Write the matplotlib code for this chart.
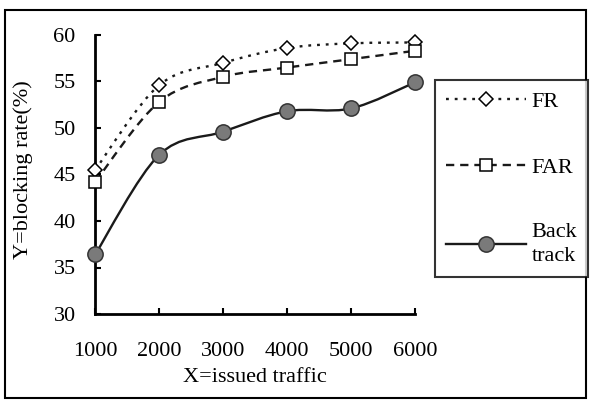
import matplotlib
matplotlib.use("Agg")
import matplotlib.pyplot as plt
import numpy as np
from matplotlib.patches import Rectangle, PathPatch
from matplotlib.path import Path
from matplotlib.lines import Line2D

traffic = [1000, 2000, 3000, 4000, 5000, 6000]
fr = [45.5, 54.6, 57.0, 58.6, 59.1, 59.2]
far = [44.2, 52.8, 55.5, 56.5, 57.4, 58.3]
back_track = [36.4, 47.1, 49.6, 51.8, 52.1, 54.9]

x_ticks = [1000, 2000, 3000, 4000, 5000, 6000]
y_ticks = [30, 35, 40, 45, 50, 55, 60]

plt.rcParams['font.family'] = ['Liberation Serif', 'DejaVu Serif']
plt.rcParams['font.size'] = 16


def smooth_path(xs, ys):
    # Catmull-Rom style bezier through the data points (like excel smoothed lines)
    pts = np.column_stack([xs, ys]).astype(float)
    verts = [pts[0]]
    codes = [Path.MOVETO]
    n = len(pts)
    for i in range(n - 1):
        p0 = pts[i - 1] if i > 0 else pts[i]
        p1 = pts[i]
        p2 = pts[i + 1]
        p3 = pts[i + 2] if i + 2 < n else pts[i + 1]
        c1 = p1 + (p2 - p0) / 6.0
        c2 = p2 - (p3 - p1) / 6.0
        verts += [c1, c2, p2]
        codes += [Path.CURVE4] * 3
    return Path(verts, codes)


fig = plt.figure(figsize=(5.91, 4.0), dpi=100)
ax = fig.add_axes([0.161, 0.215, 0.541, 0.6975])

series = [
    (fr, (0, (1.2, 2.5)), 'D', 7, 'white', 'black', 'FR'),
    (far, (0, (3.5, 2.5)), 's', 9, 'white', 'black', 'FAR'),
    (back_track, '-', 'o', 11, '#7a7a7a', '#333333', 'Back\ntrack'),
]

handles = []
for ys, ls, mk, ms, mfc, mec, lab in series:
    ax.add_patch(PathPatch(smooth_path(traffic, ys), fill=False, edgecolor='#1a1a1a',
                           linewidth=1.7, linestyle=ls, zorder=2))
    ax.plot(traffic, ys, linestyle='none', marker=mk, markersize=ms,
            markerfacecolor=mfc, markeredgecolor=mec, markeredgewidth=1.1, zorder=3,
            clip_on=False)
    handles.append(Line2D([], [], color='#1a1a1a', linewidth=1.7, linestyle=ls,
                          marker=mk, markersize=ms, markerfacecolor=mfc,
                          markeredgecolor=mec, markeredgewidth=1.1, label=lab))

ax.set_xlim(1000, 6000)
ax.set_ylim(30, 60)
ax.set_xticks(x_ticks)
ax.set_yticks(y_ticks)
ax.spines['top'].set_visible(False)
ax.spines['right'].set_visible(False)
ax.spines['left'].set_linewidth(2)
ax.spines['bottom'].set_linewidth(2)
ax.tick_params(direction='in', length=4, width=1.5, labelsize=16)
ax.tick_params(axis='x', pad=20)
ax.tick_params(axis='y', pad=14)

ax.set_xlabel('X=issued traffic', fontsize=16)
ax.set_ylabel('Y=blocking rate(%)', fontsize=16)
ax.xaxis.set_label_coords(0.5, -0.195)
ax.yaxis.set_label_coords(-0.194, 0.516)

leg = fig.legend(handles=handles, loc='upper left', bbox_to_anchor=(0.736, 0.80),
                 frameon=True, fancybox=False, edgecolor='black',
                 handlelength=3.6, handletextpad=0.25, labelspacing=2.05,
                 borderpad=0.5, borderaxespad=0, fontsize=16)
leg.get_frame().set_linewidth(1.5)
for t in leg.get_texts():
    t.set_linespacing(1.3)

# outer frame around the whole picture
fig.patches.append(Rectangle((0.008, 0.005), 0.984, 0.97, transform=fig.transFigure,
                             fill=False, edgecolor='black', linewidth=1.5))

fig.savefig('out.png', dpi=100)
